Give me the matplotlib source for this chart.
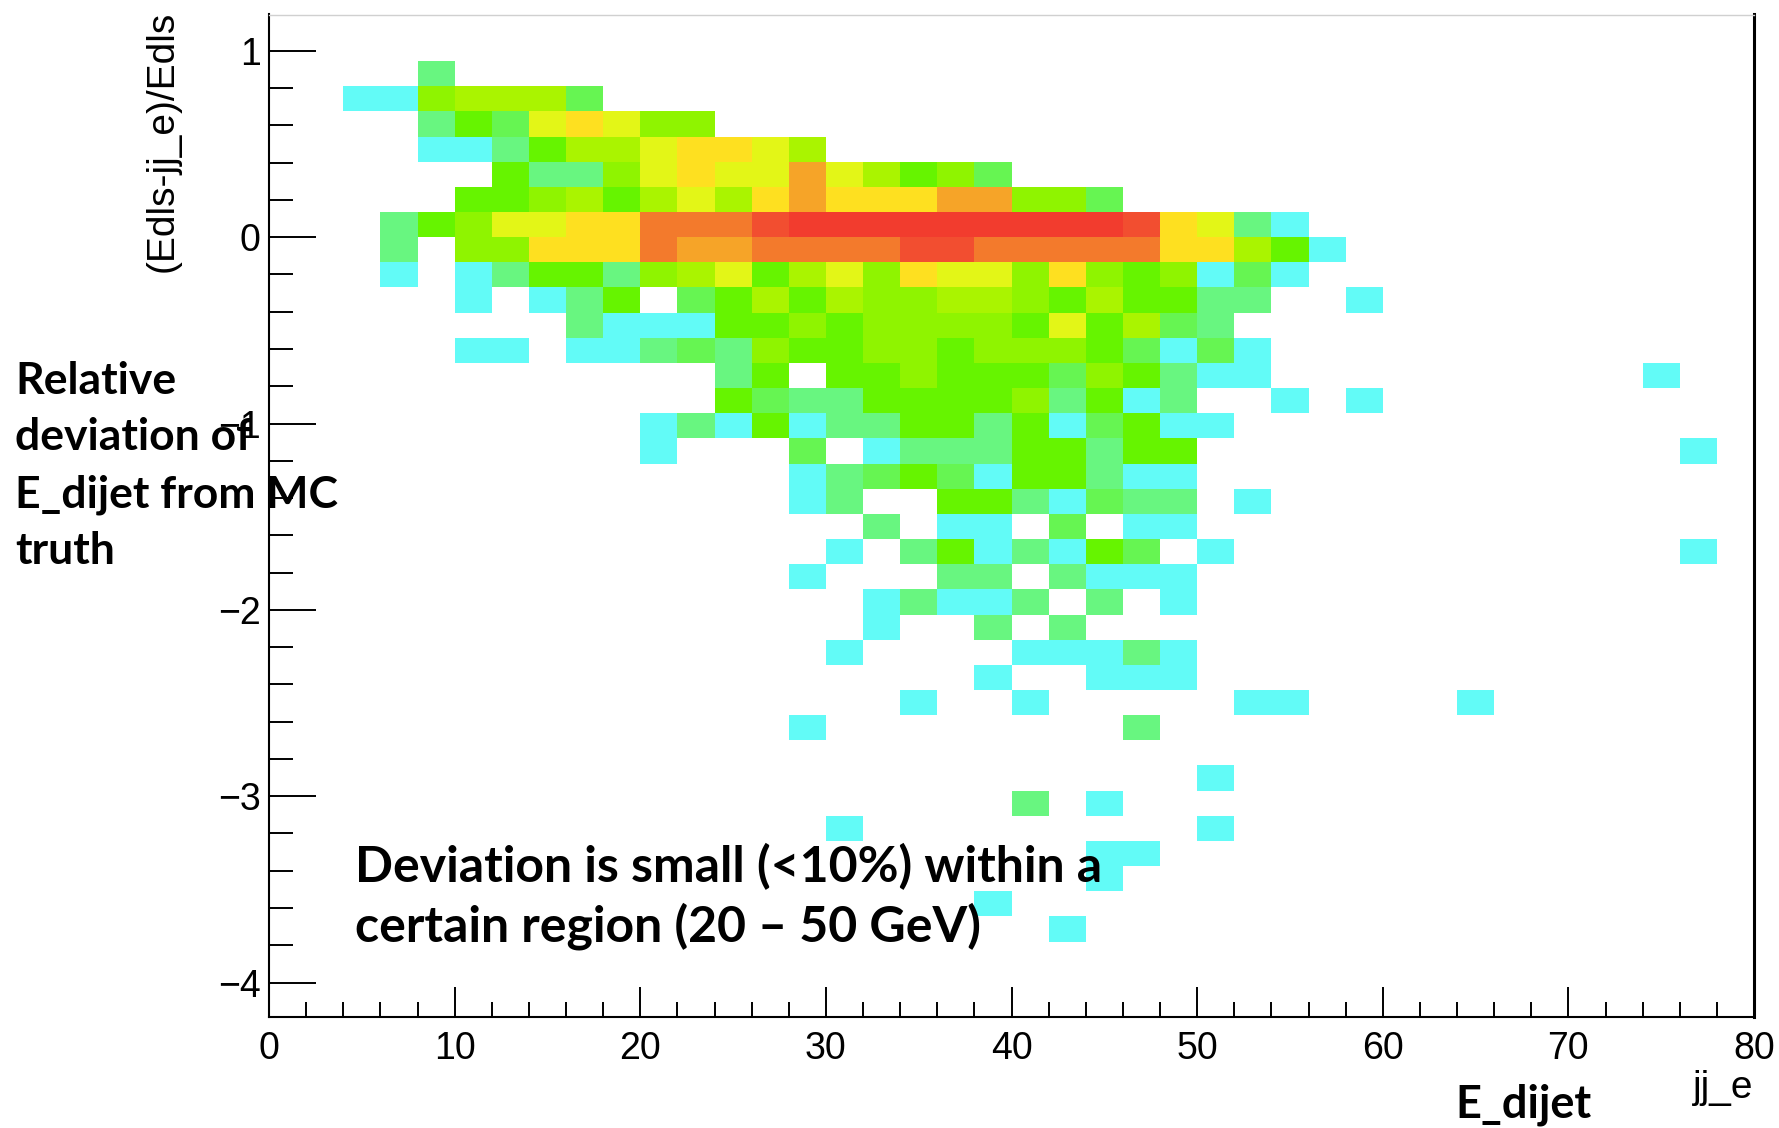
import numpy as np
import matplotlib
matplotlib.use("Agg")
import matplotlib.pyplot as plt
from matplotlib.colors import ListedColormap, BoundaryNorm
from matplotlib.ticker import MultipleLocator

# (Edls - jj_e)/Edls versus jj_e, 40 x 40 bins
x_edges = np.arange(0, 82, 2)            # jj_e
y_edges = np.arange(-31, 10) * 0.135     # relative deviation
top_k = 6                                # y bin (in units of 0.135) of the first row below

# bin contents, one string per y bin from k=6 down to k=-28,
# one char per x bin (0..39): '.' empty, 1-9, a=10, b=11, c=12
rows = [
    "....2..... .......... .......... ..........",
    "..1156663. .......... .......... ..........",
    "....243787 55........ .......... ..........",
    "....112466 78876..... .......... ..........",
    "......4225 7877976453 .......... ..........",
    ".....44564 6768988899 553....... ..........",
    "...2457788 aaabcccccc cccb8721.. ..........",
    "...2.55888 a99aaaabba aaaa88641. ..........",
    "...1.12442 5674675877 58545131.. ..........",
    ".....1.124 .346465566 5464422..1 ..........",
    "........21 1144545555 474632.... ..........",
    ".....11.11 2325445545 5543131... ..........",
    ".......... ..24.44544 4354211... .......1..",
    ".......... ..43224444 52412..1.1 ..........",
    ".......... 1214122442 413411.... ..........",
    ".......... 1...3.1222 44244..... ........1.",
    ".......... ....123431 44211..... ..........",
    ".......... ....12..44 21322.1... ..........",
    ".......... ......2.11 .3.11..... ..........",
    ".......... .....1.241 2143.1.... ........1.",
    ".......... ....1...22 .2111..... ..........",
    ".......... ......1211 2.2.1..... ..........",
    ".......... ......1..2 .2........ ..........",
    ".......... .....1.... 11121..... ..........",
    ".......... .........1 ..111..... ..........",
    ".......... .......1.. 1.....11.. ..1.......",
    ".......... ....1..... ...2...... ..........",
    ".......... .......... .......... ..........",
    ".......... .......... .....1.... ..........",
    ".......... .......... 2.1....... ..........",
    ".......... .....1.... .....1.... ..........",
    ".......... .......... ..11...... ..........",
    ".......... .......... ..1....... ..........",
    ".......... .........1 .......... ..........",
    ".......... .......... .1........ ..........",
]

palette = ["#62fbf7", "#68f680", "#66f552", "#66f400", "#8ff400", "#aaf400",
           "#e3f617", "#fee020", "#f6a428", "#f37a2c", "#f24e30", "#f23c2e"]

counts = np.zeros((len(y_edges) - 1, len(x_edges) - 1))
for i, s in enumerate(rows):
    k = top_k - i
    counts[k + 31] = [0 if ch == "." else int(ch, 16) for ch in s.replace(" ", "")]

cmap = ListedColormap(palette)
norm = BoundaryNorm(np.arange(0.5, len(palette) + 1), len(palette))

W, H = 1779, 1128
fig = plt.figure(figsize=(W / 100, H / 100), dpi=100)
ax = fig.add_axes([269 / W, 1 - 1017 / H, (1754 - 269) / W, (1017 - 14.5) / H])

ax.pcolormesh(x_edges, y_edges, np.ma.masked_equal(counts, 0),
              cmap=cmap, norm=norm, edgecolors="none")
ax.set_xlim(0, 80)
ax.set_ylim(-4.185, 1.195)

tick_font = dict(family=["Liberation Sans", "DejaVu Sans"], size=27)
ax.xaxis.set_major_locator(MultipleLocator(10))
ax.xaxis.set_minor_locator(MultipleLocator(2))
ax.yaxis.set_major_locator(MultipleLocator(1))
ax.yaxis.set_minor_locator(MultipleLocator(0.2))
ax.tick_params(axis="both", which="both", direction="in", width=1.4, color="black")
ax.tick_params(axis="x", which="major", length=21.6, pad=10)
ax.tick_params(axis="x", which="minor", length=10.8)
ax.tick_params(axis="y", which="major", length=34, pad=6)
ax.tick_params(axis="y", which="minor", length=17)
ax.tick_params(top=False, right=False)
for lab in ax.get_xticklabels() + ax.get_yticklabels():
    lab.set_fontfamily(tick_font["family"])
    lab.set_fontsize(tick_font["size"])

ax.spines["left"].set_linewidth(1.5)
ax.spines["bottom"].set_linewidth(1.5)
ax.spines["right"].set_linewidth(2.2)
ax.spines["top"].set_linewidth(1.0)
ax.spines["top"].set_color("#d0d0d0")

# ROOT axis titles
fig.text(163 / W, 1 - 11 / H, "(Edls-jj_e)/Edls", rotation=90, ha="center", va="top",
         fontsize=28, family=["Liberation Sans", "DejaVu Sans"])
fig.text(1753 / W, 1 - 1070 / H, "jj_e", ha="right", va="top",
         fontsize=28, family=["Liberation Sans", "DejaVu Sans"])

# slide annotations
note_font = dict(family=["Lato", "DejaVu Sans"], weight="bold", color="black")
left_lines = ["Relative", "deviation of", "E_dijet from MC", "truth"]
for line, base in zip(left_lines, [394, 450, 507, 564]):
    fig.text(15 / W, 1 - base / H, line, ha="left", va="baseline",
             fontsize=32, **note_font)

fig.text(1455 / W, 1 - 1117 / H, "E_dijet", ha="left", va="baseline",
         fontsize=32.5, **note_font)

bottom_lines = ["Deviation is small (<10%) within a", "certain region (20 \u2013 50 GeV)"]
for line, base in zip(bottom_lines, [882, 942]):
    fig.text(355 / W, 1 - base / H, line, ha="left", va="baseline",
             fontsize=36, **note_font)

fig.savefig("out.png", dpi=100)
